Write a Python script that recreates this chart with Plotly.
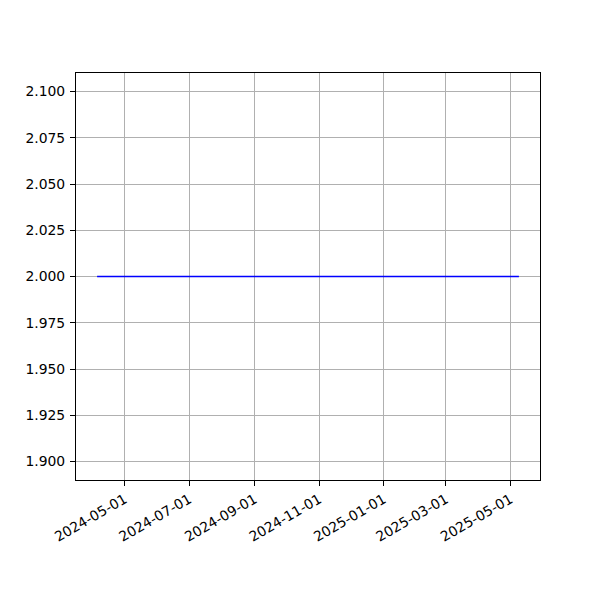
import plotly.graph_objects as go
import pandas as pd

dates = ["2024-04-05", "2025-05-09"]
values = [2.0, 2.0]

d = pd.to_datetime(dates)
span = d.max() - d.min()
xr = [d.min() - span * 0.05, d.max() + span * 0.05]

fig = go.Figure()
fig.add_trace(go.Scatter(x=dates, y=values, mode="lines",
                         line=dict(color="#0000ff", width=1.5)))

axis_common = dict(showline=True, linecolor="black", linewidth=1, mirror=True,
                   ticks="outside", ticklen=5, tickcolor="black", tickwidth=1,
                   showgrid=True, gridcolor="#b0b0b0", gridwidth=1, zeroline=False,
                   automargin=False,
                   tickfont=dict(family="DejaVu Sans", size=13.9, color="black"))

fig.update_layout(
    width=600, height=600,
    margin=dict(l=68, r=68, t=65, b=128),
    plot_bgcolor="white", paper_bgcolor="white",
    showlegend=False,
    xaxis=dict(range=xr, tick0="2024-05-01", dtick="M2", tickformat="%Y-%m-%d",
               tickangle=-30, **axis_common),
    yaxis=dict(range=[1.89, 2.11], tick0=1.9, dtick=0.025, tickformat=".3f",
               ticklabelstandoff=2, **axis_common),
)
fig.write_html("out.html")
